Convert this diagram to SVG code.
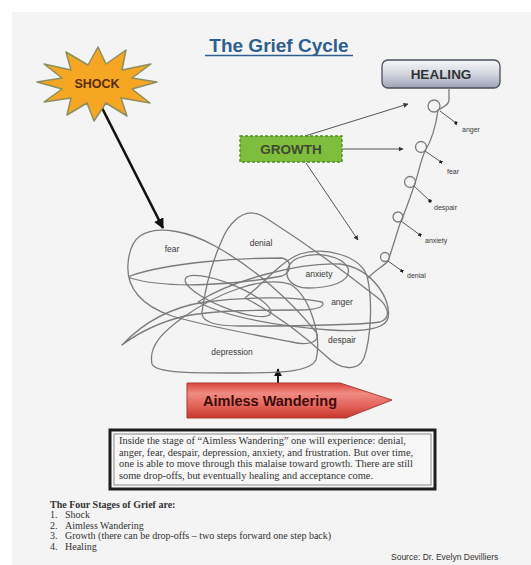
<svg xmlns="http://www.w3.org/2000/svg" width="531" height="565" viewBox="0 0 531 565">
<defs>
<style>
.scr{fill:none;stroke:#7c7c7c;stroke-width:1.3;stroke-linejoin:round}
.lbl{font-family:"Liberation Sans",Arial,sans-serif;font-size:8.5px;fill:#3a3a3a;text-anchor:middle}
.slbl{font-family:"Liberation Sans",Arial,sans-serif;font-size:7px;fill:#3a3a3a}
.ptr{fill:none;stroke:#555;stroke-width:1;marker-end:url(#sq)}
.conn{fill:none;stroke:#555;stroke-width:1;marker-end:url(#ah)}
.body{font-family:"Liberation Serif","Times New Roman",serif;font-size:10.4px;fill:#333}
.list{font-family:"Liberation Serif","Times New Roman",serif;font-size:10px;fill:#333}
.bold{font-family:"Liberation Sans",Arial,sans-serif;font-weight:bold;text-anchor:middle}
</style>
<marker id="ah" viewBox="0 0 10 10" refX="9" refY="5" markerWidth="5" markerHeight="5" orient="auto" markerUnits="userSpaceOnUse">
<path d="M0,0 L10,5 L0,10 Z" fill="#333"/>
</marker>
<marker id="ahb" viewBox="0 0 10 10" refX="9" refY="5" markerWidth="4" markerHeight="4" orient="auto">
<path d="M0,0 L10,5 L0,10 Z" fill="#111"/>
</marker>
<marker id="sq" viewBox="0 0 10 10" refX="5" refY="5" markerWidth="3" markerHeight="3" orient="auto" markerUnits="userSpaceOnUse">
<rect x="0" y="0" width="10" height="10" fill="#222"/>
</marker>
<linearGradient id="gHeal" x1="0" y1="0" x2="0" y2="1">
<stop offset="0" stop-color="#f6f7fa"/>
<stop offset="0.5" stop-color="#d3d6df"/>
<stop offset="1" stop-color="#9ca2b6"/>
</linearGradient>
<linearGradient id="gAim" x1="0" y1="0" x2="0" y2="1">
<stop offset="0" stop-color="#d8463e"/>
<stop offset="0.3" stop-color="#ef8b82"/>
<stop offset="0.65" stop-color="#e3635a"/>
<stop offset="1" stop-color="#c6372f"/>
</linearGradient>
</defs>

<rect x="0" y="0" width="531" height="565" fill="#ffffff"/>
<rect x="12" y="12" width="519" height="553" fill="#f4f4f4"/>

<g id="title">
<text x="279" y="52" class="bold" font-size="19" fill="#2f5f8f">The Grief Cycle</text>
<line x1="205" y1="55.5" x2="353" y2="55.5" stroke="#2f5f8f" stroke-width="1.3"/>
</g>

<g id="connectors">
<line x1="98" y1="100" x2="163" y2="228" stroke="#111" stroke-width="2.6" marker-end="url(#ahb)"/>
<line x1="305" y1="136" x2="408" y2="104" class="conn"/>
<line x1="342" y1="149" x2="403" y2="149" class="conn"/>
<line x1="306" y1="163" x2="358" y2="240" class="conn"/>
<line x1="278" y1="383" x2="278" y2="369" stroke="#222" stroke-width="2" marker-end="url(#ahb)"/>
</g>

<g id="shock">
<polygon points="157,82 132,89 150,103 121,98 127,116 106,103 94,121 87,103 67,115 71,98 44,102 62,89 37,82 62,78 44,64 71,70 66,52 88,65 98,47 106,64 126,50 122,70 151,64 132,78" fill="#f5a623" stroke="#8d8f62" stroke-width="1.5" stroke-linejoin="round"/>
<text x="97" y="88" class="bold" font-size="12.5" fill="#5a2d0c">SHOCK</text>
</g>

<g id="healing">
<rect x="382" y="60" width="118" height="28" rx="6" fill="url(#gHeal)" stroke="#4c4f5a" stroke-width="1.3"/>
<text x="441" y="79" class="bold" font-size="13.5" fill="#333">HEALING</text>
</g>

<g id="growth">
<rect x="240" y="136" width="102" height="26" fill="#7fbe3c" stroke="#4f8a25" stroke-width="1.3" stroke-dasharray="3 2"/>
<text x="291" y="154" class="bold" font-size="13.5" fill="#3f4a33">GROWTH</text>
</g>

<g id="spiral">
<path class="scr" d="M449,88 L449,100 C449,105 443,107 438,110 C436,125 432,140 425,151 C420,162 418,176 414,186 C410,198 405,212 401,221 C397,232 392,250 388,261 C384,266 375,270 368,278"/>
<circle class="scr" cx="434" cy="106" r="6"/>
<circle class="scr" cx="421" cy="147" r="5.5"/>
<circle class="scr" cx="410" cy="182" r="5.5"/>
<circle class="scr" cx="398" cy="217" r="5"/>
<circle class="scr" cx="385" cy="257" r="4.5"/>
<line class="ptr" x1="440" y1="111" x2="456" y2="123"/>
<line class="ptr" x1="425" y1="151" x2="441" y2="162"/>
<line class="ptr" x1="414" y1="186" x2="430" y2="201"/>
<line class="ptr" x1="401" y1="221" x2="420" y2="235"/>
<line class="ptr" x1="388" y1="261" x2="402" y2="271"/>
<text x="462" y="132" class="slbl">anger</text>
<text x="447" y="174" class="slbl">fear</text>
<text x="434" y="210" class="slbl">despair</text>
<text x="425" y="243" class="slbl">anxiety</text>
<text x="407" y="278" class="slbl">denial</text>
</g>

<g id="scribble">
<path class="scr" d="M140,236 C158,224 190,232 215,246 C255,268 292,302 316,332 C322,342 308,346 292,342 C250,334 205,326 172,316 C142,306 126,288 128,264 C129,251 133,241 140,236 Z"/>
<path class="scr" d="M253,213 C240,212 228,225 222,240 C212,262 205,290 202,312 C201,322 215,326 240,326 C290,326 350,326 380,322 C392,318 388,306 378,298 C345,272 300,240 272,222 C265,217 259,213 253,213 Z"/>
<path class="scr" d="M298,258 C318,251 342,256 348,268 C352,282 330,288 308,288 C292,288 284,278 288,268 C290,263 293,260 298,258 Z"/>
<path class="scr" d="M245,298 C265,282 280,262 300,254 C325,246 360,256 367,276 C373,300 371,338 364,358 C358,372 340,370 326,356 C302,334 272,312 245,298 Z"/>
<path class="scr" d="M198,302 C232,280 300,262 340,264 C372,268 392,300 388,318 C385,330 360,332 330,330 C280,326 228,318 198,302 Z"/>
<path class="scr" d="M130,276 C170,262 240,258 282,258 C292,260 292,272 282,276 C240,284 170,290 130,278 Z"/>
<path class="scr" d="M152,364 C148,345 165,330 185,316 C220,292 262,276 290,284 C310,296 322,336 316,360 C308,374 270,373 230,373 C190,373 156,373 152,364 Z"/>
<path class="scr" d="M122,345 C140,326 165,308 205,302 C250,296 300,297 322,302 C326,306 318,310 300,310 C260,310 215,310 185,316 C160,322 138,333 122,345 Z"/>
<ellipse class="scr" cx="228" cy="296" rx="46" ry="12" transform="rotate(22 228 296)"/>
<text x="172" y="252" class="lbl">fear</text>
<text x="261" y="246" class="lbl">denial</text>
<text x="319" y="277" class="lbl">anxiety</text>
<text x="342" y="305" class="lbl">anger</text>
<text x="342" y="343" class="lbl">despair</text>
<text x="232" y="355" class="lbl">depression</text>
</g>

<g id="aimless">
<polygon points="187,383 340,383 392,400 346,418 187,418" fill="url(#gAim)" stroke="#b03a33" stroke-width="1"/>
<text x="270" y="405.5" class="bold" font-size="14.5" fill="#3c0b0b">Aimless Wandering</text>
</g>

<g id="textbox">
<rect x="110" y="430" width="325" height="59" fill="#f7f7f7" stroke="#1e1e1e" stroke-width="3"/>
<rect x="114" y="434" width="317" height="51" fill="none" stroke="#8a8a8a" stroke-width="1"/>
<text class="body" x="119" y="444">Inside the stage of “Aimless Wandering” one will experience: denial,</text>
<text class="body" x="119" y="455.5">anger, fear, despair, depression, anxiety, and frustration. But over time,</text>
<text class="body" x="119" y="467">one is able to move through this malaise toward growth. There are still</text>
<text class="body" x="119" y="478.5">some drop-offs, but eventually healing and acceptance come.</text>
</g>

<g id="list">
<text class="list" x="50" y="508" font-weight="bold">The Four Stages of Grief are:</text>
<text class="list" x="50" y="518">1.</text><text class="list" x="65" y="518">Shock</text>
<text class="list" x="50" y="528.5">2.</text><text class="list" x="65" y="528.5">Aimless Wandering</text>
<text class="list" x="50" y="539">3.</text><text class="list" x="65" y="539">Growth (there can be drop-offs – two steps forward one step back)</text>
<text class="list" x="50" y="549.5">4.</text><text class="list" x="65" y="549.5">Healing</text>
</g>

<g id="source">
<text x="391" y="560" font-family="'Liberation Sans',Arial,sans-serif" font-size="8.5" fill="#333">Source: Dr. Evelyn Devilliers</text>
</g>
</svg>
